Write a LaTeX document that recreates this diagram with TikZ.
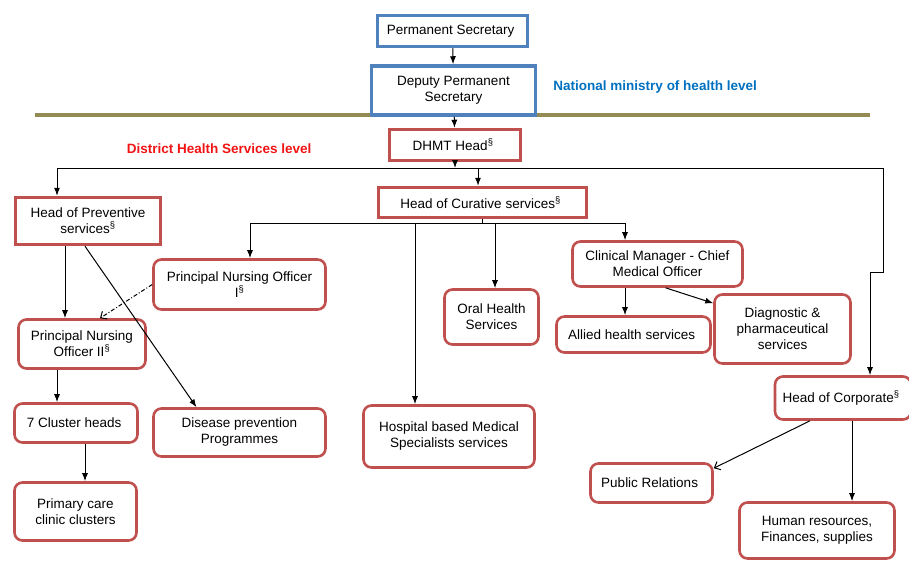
\documentclass[tikz,border=0pt]{standalone}
\usepackage{fontspec}
\setmainfont{Liberation Sans}
\usetikzlibrary{arrows.meta}
\definecolor{natblue}{RGB}{79,129,189}
\definecolor{distred}{RGB}{192,80,77}
\definecolor{olivebar}{RGB}{148,138,84}
\definecolor{labelblue}{RGB}{0,112,192}
\definecolor{labelred}{RGB}{240,20,20}

\begin{document}
\begin{tikzpicture}[x=1pt,y=-1pt,
    every node/.style={font=\fontsize{13.5}{16}\selectfont, align=center, inner sep=0pt},
    natbox/.style={draw=natblue, line width=3.5pt, fill=white},
    headbox/.style={draw=distred, line width=3.5pt, fill=white},
    unitbox/.style={draw=distred, line width=2.6pt, rounded corners=8pt, fill=white},
    wh/.style 2 args={minimum width=#1pt, minimum height=#2pt},
    arr/.style={-{Latex[length=8pt,width=6pt]}, line width=1pt},
    openarr/.style={-{Straight Barb[length=5pt,width=9pt]}, line width=1pt}]
    \useasboundingbox (0,0) rectangle (909,562);

    \draw[olivebar, line width=4pt] (35,115) -- (870,115);

    \node[text=labelblue, font=\bfseries\fontsize{13.5}{16}\selectfont] (natlabel) at (657,87) { National ministry of health level };
    \node[text=labelred, font=\bfseries\fontsize{13.5}{16}\selectfont] (distlabel) at (221,149) { District Health Services level };

    \node[natbox, wh={150}{31}] (ps) at (452.5,31) { Permanent Secretary };
    \node[natbox, wh={164}{49}] (dps) at (453.5,90.5) { Deputy Permanent\\Secretary };
    \node[headbox, wh={131}{31}] (dhmt) at (455,145) { DHMT Head\textsuperscript{\S} };
    \node[headbox, wh={145}{47}] (prev) at (88,221) { Head of Preventive\\services\textsuperscript{\S} };
    \node[headbox, wh={208}{30}] (cur) at (482.5,202.5) { Head of Curative services\textsuperscript{\S} };

    \node[unitbox, wh={172}{50}] (pno1) at (239.5,284.5) { Principal Nursing Officer\\I\textsuperscript{\S} };
    \node[unitbox, wh={94}{55}] (oral) at (491.5,317) { Oral Health\\Services };
    \node[unitbox, wh={170}{45}] (cm) at (657.5,264) { Clinical Manager - Chief\\Medical Officer };
    \node[unitbox, wh={154}{36}] (allied) at (633.5,334.5) { Allied health services };
    \node[unitbox, wh={136}{69}] (diag) at (782.5,329) { Diagnostic \&\\pharmaceutical\\services };
    \node[unitbox, wh={127}{49}] (pno2) at (82,344) { Principal Nursing\\Officer II\textsuperscript{\S} };
    \node[unitbox, wh={123}{39}] (cluster) at (76,423) { 7 Cluster heads };
    \node[unitbox, wh={172}{48}] (dis) at (239.5,432.5) { Disease prevention\\Programmes };
    \node[unitbox, wh={171}{62}] (hosp) at (449,436.5) { Hospital based Medical\\Specialists services };
    \node[unitbox, wh={136}{43}] (corp) at (843,398) { Head of Corporate\textsuperscript{\S} };
    \node[unitbox, wh={122}{39}] (pr) at (651.5,483) { Public Relations };
    \node[unitbox, wh={155}{56}] (hr) at (817,530.5) { Human resources,\\Finances, supplies };
    \node[unitbox, wh={122}{58}] (prim) at (75.5,511.5) { Primary care\\clinic clusters };

    \coordinate (bus) at (455,168);
    \coordinate (jog) at (883,272);
    \coordinate (cbus) at (482.5,223);

    \draw[arr] (ps) -- (dps);
    \draw[arr] (dps) -- (dhmt);
    \draw[arr] (dhmt) -- (bus);
    \draw[arr] (bus) -| ([xshift=-31pt]prev.north);
    \draw[arr] (bus) -| ([xshift=-4.5pt]cur.north);
    \draw[arr] (bus) -| (jog) -| ([xshift=27pt]corp.north);

    \draw (cur.south) -- (cbus);
    \draw[arr] (cbus) -| ([xshift=10.5pt]pno1.north);
    \draw[arr] (cbus) -| ([xshift=-34pt]hosp.north);
    \draw[arr] (cbus) -| ([xshift=3.5pt]oral.north);
    \draw[arr] (cbus) -| ([xshift=-32.5pt]cm.north);

    \draw[arr] ([xshift=-23pt]prev.south) -- ([xshift=-17pt]pno2.north);
    \draw[arr] ([xshift=-3pt]prev.south) -- ([xshift=-43pt]dis.north);
    \draw[openarr, dash pattern=on 4pt off 2pt on 1pt off 2pt] (pno1.west) -- ([xshift=18pt]pno2.north);
    \draw[arr] ([xshift=-25pt]pno2.south) -- ([xshift=-19pt]cluster.north);
    \draw[arr] ([xshift=9pt]cluster.south) -- ([xshift=9.5pt]prim.north);

    \draw[arr] ([xshift=-32.5pt]cm.south) -- ([xshift=-8.5pt]allied.north);
    \draw[arr] ([xshift=8pt]cm.south) -- ([yshift=-10pt]diag.north west);

    \draw[openarr] ([xshift=-33pt]corp.south) -- ([yshift=-6pt]pr.north east);
    \draw[arr] ([xshift=9pt]corp.south) -- ([xshift=35pt]hr.north);

\end{tikzpicture}
\end{document}
